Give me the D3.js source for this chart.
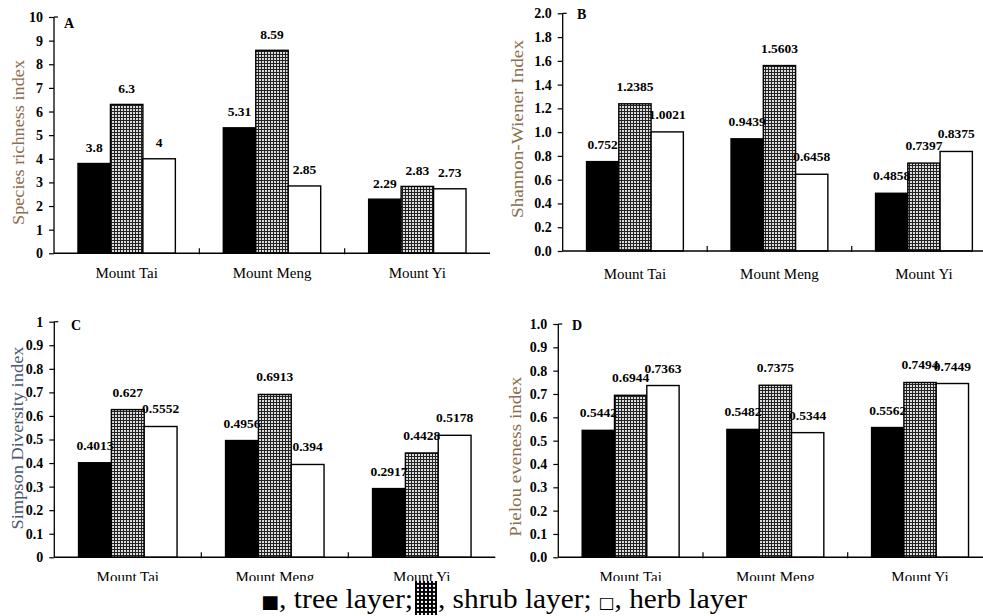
<!DOCTYPE html>
<html><head><meta charset="utf-8">
<script src="https://cdn.jsdelivr.net/npm/d3@7"></script>
<style>body{margin:0;background:#fff}svg{display:block;font-family:"Liberation Serif","Times New Roman",serif}</style>
</head><body>
<svg id="c" width="983" height="616"></svg>
<script>
// ---- data ----
const categories = ["Mount Tai", "Mount Meng", "Mount Yi"];
const layers = ["tree layer", "shrub layer", "herb layer"];
// rows = category, columns = tree, shrub, herb
const richness = [[3.8, 6.3, 4], [5.31, 8.59, 2.85], [2.29, 2.83, 2.73]];
const shannon  = [[0.752, 1.2385, 1.0021], [0.9439, 1.5603, 0.6458], [0.4858, 0.7397, 0.8375]];
const simpson  = [[0.4013, 0.627, 0.5552], [0.4956, 0.6913, 0.394], [0.2917, 0.4428, 0.5178]];
const pielou   = [[0.5442, 0.6944, 0.7363], [0.5482, 0.7375, 0.5344], [0.5562, 0.7494, 0.7449]];
const richnessTicks = ["0","1","2","3","4","5","6","7","8","9","10"];
const shannonTicks  = ["0.0","0.2","0.4","0.6","0.8","1.0","1.2","1.4","1.6","1.8","2.0"];
const simpsonTicks  = ["0","0.1","0.2","0.3","0.4","0.5","0.6","0.7","0.8","0.9","1"];
const pielouTicks   = ["0.0","0.1","0.2","0.3","0.4","0.5","0.6","0.7","0.8","0.9","1.0"];
const yMax = [10, 2, 1, 1];
const panelLetters = ["A", "B", "C", "D"];
const yTitles = ["Species richness index", "Shannon-Wiener Index", "Simpson Diversity index", "Pielou eveness index"];

// ---- layout ----
const panels = [
  {data: richness, ticks: richnessTicks, max: yMax[0], letter: panelLetters[0], title: yTitles[0],
   x0: 54, x1: 490, y0: 253.3, y1: 17, tX: 18.5, tY: 142.5, tLen: 165, tColor: "#8a6e4e",
   lX: 64, lY: 28, catY: 278, gap: 11.5},
  {data: shannon, ticks: shannonTicks, max: yMax[1], letter: panelLetters[1], title: yTitles[1],
   x0: 562.7, x1: 996.2, y0: 251, y1: 13.3, tX: 517.5, tY: 129, tLen: 178, tColor: "#8a6e4e",
   lX: 577, lY: 18.5, catY: 279, gap: 13},
  {data: simpson, ticks: simpsonTicks, max: yMax[2], letter: panelLetters[2], title: yTitles[2],
   x0: 54.3, x1: 495.3, y0: 557.3, y1: 321.7, tX: 17.5, tY: 438, tLen: 183, tColor: "#4a5570",
   lX: 71, lY: 330, catY: 582, gap: 13},
  {data: pielou, ticks: pielouTicks, max: yMax[3], letter: panelLetters[3], title: yTitles[3],
   x0: 558.3, x1: 992.4, y0: 557.3, y1: 324, tX: 515, tY: 456.7, tLen: 160, tColor: "#8a6e4e",
   lX: 572, lY: 330, catY: 582, gap: 13}
];

const svg = d3.select("#c");
const defs = svg.append("defs");
const grid = defs.append("pattern").attr("id", "grid").attr("patternUnits", "userSpaceOnUse")
  .attr("width", 3).attr("height", 3);
grid.append("rect").attr("width", 3).attr("height", 3).attr("fill", "#dcdcdc");
grid.append("path").attr("d", "M0 0.5H3M0.5 0V3").attr("stroke", "#222").attr("stroke-width", 1);
const dots = defs.append("pattern").attr("id", "dots").attr("patternUnits", "userSpaceOnUse")
  .attr("width", 4).attr("height", 4);
dots.append("rect").attr("width", 4).attr("height", 4).attr("fill", "#000");
dots.append("circle").attr("cx", 2).attr("cy", 2).attr("r", 1.15).attr("fill", "#fff");

const fills = ["#000", "url(#grid)", "#fff"];

panels.forEach(p => {
  const g = svg.append("g");
  const x = d3.scaleBand().domain(categories).range([p.x0, p.x1]).padding(0);
  const bw = x.bandwidth();
  const xi = d3.scaleBand().domain(layers).range([bw * 0.165, bw * 0.835]).padding(0);
  const y = d3.scaleLinear().domain([0, p.max]).range([p.y0, p.y1]);
  const tickVals = p.ticks.map((t, i) => i * p.max / (p.ticks.length - 1));

  // bars
  categories.forEach((c, ci) => {
    layers.forEach((l, li) => {
      const v = p.data[ci][li];
      const bx = x(c) + xi(l);
      g.append("rect").attr("x", bx).attr("y", y(v))
        .attr("width", xi.bandwidth()).attr("height", y(0) - y(v))
        .attr("fill", fills[li]).attr("stroke", "#000").attr("stroke-width", 1.4);
    });
  });
  // value labels
  categories.forEach((c, ci) => {
    layers.forEach((l, li) => {
      const v = p.data[ci][li];
      g.append("text").attr("x", x(c) + xi(l) + xi.bandwidth() / 2).attr("y", y(v) - p.gap)
        .attr("text-anchor", "middle").attr("font-weight", "bold").attr("font-size", 13.5)
        .text(String(v));
    });
  });

  // y axis
  const ya = d3.axisLeft(y).tickValues(tickVals).tickFormat((d, i) => p.ticks[i])
    .tickSize(5).tickSizeOuter(0).tickPadding(6);
  const yg = g.append("g").attr("transform", `translate(${p.x0},0)`).call(ya);
  yg.select(".domain").remove();
  yg.selectAll("line").attr("stroke", "#000").attr("stroke-width", 1.2);
  yg.selectAll("text").attr("font-family", "Liberation Serif").attr("font-weight", "bold")
    .attr("font-size", 14).attr("fill", "#000");
  g.append("line").attr("x1", p.x0).attr("x2", p.x0).attr("y1", p.y0).attr("y2", y(p.max))
    .attr("stroke", "#000").attr("stroke-width", 1.3);
  g.append("line").attr("x1", p.x0).attr("x2", p.x0 + 4).attr("y1", y(p.max)).attr("y2", y(p.max))
    .attr("stroke", "#000").attr("stroke-width", 1.2);

  // x axis
  g.append("line").attr("x1", p.x0).attr("x2", p.x1).attr("y1", p.y0).attr("y2", p.y0)
    .attr("stroke", "#000").attr("stroke-width", 1.4);
  categories.slice(1).forEach(c => {
    g.append("line").attr("x1", x(c)).attr("x2", x(c)).attr("y1", p.y0 - 5).attr("y2", p.y0 + 1)
      .attr("stroke", "#000").attr("stroke-width", 1.2);
  });
  categories.forEach(c => {
    g.append("text").attr("x", x(c) + bw / 2).attr("y", p.catY).attr("text-anchor", "middle")
      .attr("font-size", 15).text(c);
  });

  // panel letter
  g.append("text").attr("x", p.lX).attr("y", p.lY).attr("font-weight", "bold").attr("font-size", 14).text(p.letter);

  // y title
  g.append("text").attr("transform", `translate(${p.tX},${p.tY}) rotate(-90)`)
    .attr("text-anchor", "middle").attr("dy", "0.35em").attr("font-size", 16)
    .attr("fill", p.tColor).attr("textLength", p.tLen).attr("lengthAdjust", "spacingAndGlyphs")
    .text(p.title);
});

// legend (covers the bottom of the lower category labels, as in the reference)
svg.append("rect").attr("x", 0).attr("y", 581).attr("width", 983).attr("height", 35).attr("fill", "#fff");
const t1 = svg.append("text").attr("x", 261).attr("y", 608).attr("font-size", 28)
  .attr("textLength", 152).attr("lengthAdjust", "spacingAndGlyphs");
t1.append("tspan").attr("font-family", "DejaVu Sans").attr("font-size", 18).text("■");
t1.append("tspan").text(", tree layer;");
svg.append("rect").attr("x", 415).attr("y", 581).attr("width", 22).attr("height", 34).attr("fill", "url(#dots)");
const t2 = svg.append("text").attr("x", 438).attr("y", 608).attr("font-size", 28)
  .attr("textLength", 309).attr("lengthAdjust", "spacingAndGlyphs");
t2.append("tspan").text(", shrub layer; ");
t2.append("tspan").attr("font-family", "DejaVu Sans").attr("font-size", 16).text("□");
t2.append("tspan").text(", herb layer");
</script>
</body></html>
